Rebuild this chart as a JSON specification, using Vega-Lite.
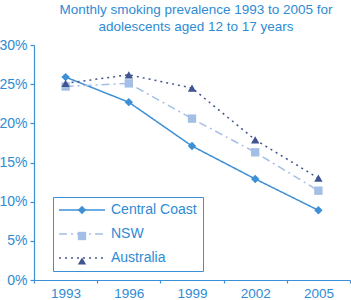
{
  "$schema": "https://vega.github.io/schema/vega-lite/v6.json",
  "width": 316,
  "height": 235,
  "autosize": "none",
  "padding": {"left": 34, "top": 45, "right": 1, "bottom": 20},
  "background": "white",
  "config": {
    "font": "Liberation Sans",
    "view": {"stroke": null},
    "axis": {"labelFont": "Liberation Sans", "labelColor": "#2e8bd4", "domainColor": "#3d8fd6", "tickColor": "#3d8fd6", "grid": false, "title": null, "labelFontSize": 14, "domainWidth": 1.2, "tickWidth": 1.2},
    "legend": {"labelFont": "Liberation Sans", "labelColor": "#2e8bd4", "labelFontSize": 14}
  },
  "title": {
    "text": ["Monthly smoking prevalence 1993 to 2005 for", "adolescents aged 12 to 17 years"],
    "font": "Liberation Sans",
    "fontSize": 13.5,
    "fontWeight": "normal",
    "color": "#2e8bd4",
    "anchor": "middle",
    "offset": 5,
    "dx": 4,
    "lineHeight": 17
  },
  "data": {
    "values": [
      {"year": "1993", "series": "Central Coast", "value": 25.9},
      {"year": "1996", "series": "Central Coast", "value": 22.7},
      {"year": "1999", "series": "Central Coast", "value": 17.1},
      {"year": "2002", "series": "Central Coast", "value": 12.9},
      {"year": "2005", "series": "Central Coast", "value": 8.9},
      {"year": "1993", "series": "NSW", "value": 24.7},
      {"year": "1996", "series": "NSW", "value": 25.1},
      {"year": "1999", "series": "NSW", "value": 20.6},
      {"year": "2002", "series": "NSW", "value": 16.3},
      {"year": "2005", "series": "NSW", "value": 11.4},
      {"year": "1993", "series": "Australia", "value": 25.1},
      {"year": "1996", "series": "Australia", "value": 26.2},
      {"year": "1999", "series": "Australia", "value": 24.5},
      {"year": "2002", "series": "Australia", "value": 17.9},
      {"year": "2005", "series": "Australia", "value": 13.0}
    ]
  },
  "encoding": {
    "x": {
      "field": "year", "type": "ordinal",
      "scale": {"type": "band", "paddingInner": 0, "paddingOuter": 0},
      "axis": {"labelAngle": 0, "tickBand": "extent", "tickSize": 3, "labelPadding": 3, "labelFontSize": 13.5}
    },
    "y": {
      "field": "value", "type": "quantitative",
      "scale": {"domain": [0, 30], "nice": false},
      "axis": {"values": [0, 5, 10, 15, 20, 25, 30], "labelExpr": "datum.value + '%'", "tickSize": 4, "labelPadding": 3}
    }
  },
  "layer": [
    {
      "mark": {"type": "line", "strokeWidth": 1.5},
      "encoding": {
        "color": {
          "field": "series", "type": "nominal",
          "scale": {"domain": ["Central Coast", "NSW", "Australia"], "range": ["#3d8fd6", "#a3bfe6", "#3f5591"]},
          "legend": {
            "title": null, "orient": "none", "legendX": 19, "legendY": 152,
            "strokeColor": "#3d8fd6", "padding": 6, "symbolType": "M-3.76,0H3.76",
            "symbolSize": 150, "symbolStrokeWidth": 1.5, "symbolOffset": 16,
            "rowPadding": 10, "labelOffset": 22
          }
        },
        "strokeDash": {
          "field": "series", "type": "nominal",
          "scale": {"domain": ["Central Coast", "NSW", "Australia"], "range": [[1, 0], [8, 4, 2, 4], [2, 4]]},
          "legend": {
            "title": null, "orient": "none", "legendX": 19, "legendY": 152,
            "strokeColor": "#3d8fd6", "padding": 6, "symbolType": "M-3.76,0H3.76",
            "symbolSize": 150, "symbolStrokeWidth": 1.5, "symbolOffset": 16,
            "rowPadding": 10, "labelOffset": 22
          }
        }
      }
    },
    {
      "mark": {"type": "point", "filled": true, "opacity": 1, "size": 70},
      "encoding": {
        "color": {
          "field": "series", "type": "nominal",
          "legend": {
            "title": null, "orient": "none", "legendX": 19, "legendY": 152,
            "padding": 6, "symbolSize": 70, "symbolOffset": 16, "rowPadding": 10,
            "labelOffset": 22, "symbolOpacity": 1, "labelExpr": "''"
          }
        },
        "shape": {
          "field": "series", "type": "nominal",
          "scale": {"domain": ["Central Coast", "NSW", "Australia"], "range": ["diamond", "square", "triangle-up"]},
          "legend": {
            "title": null, "orient": "none", "legendX": 19, "legendY": 152,
            "padding": 6, "symbolSize": 70, "symbolOffset": 16, "rowPadding": 10,
            "labelOffset": 22, "symbolOpacity": 1, "labelExpr": "''"
          }
        }
      }
    }
  ],
  "resolve": {"legend": {"color": "independent", "shape": "independent", "strokeDash": "independent"}}
}
